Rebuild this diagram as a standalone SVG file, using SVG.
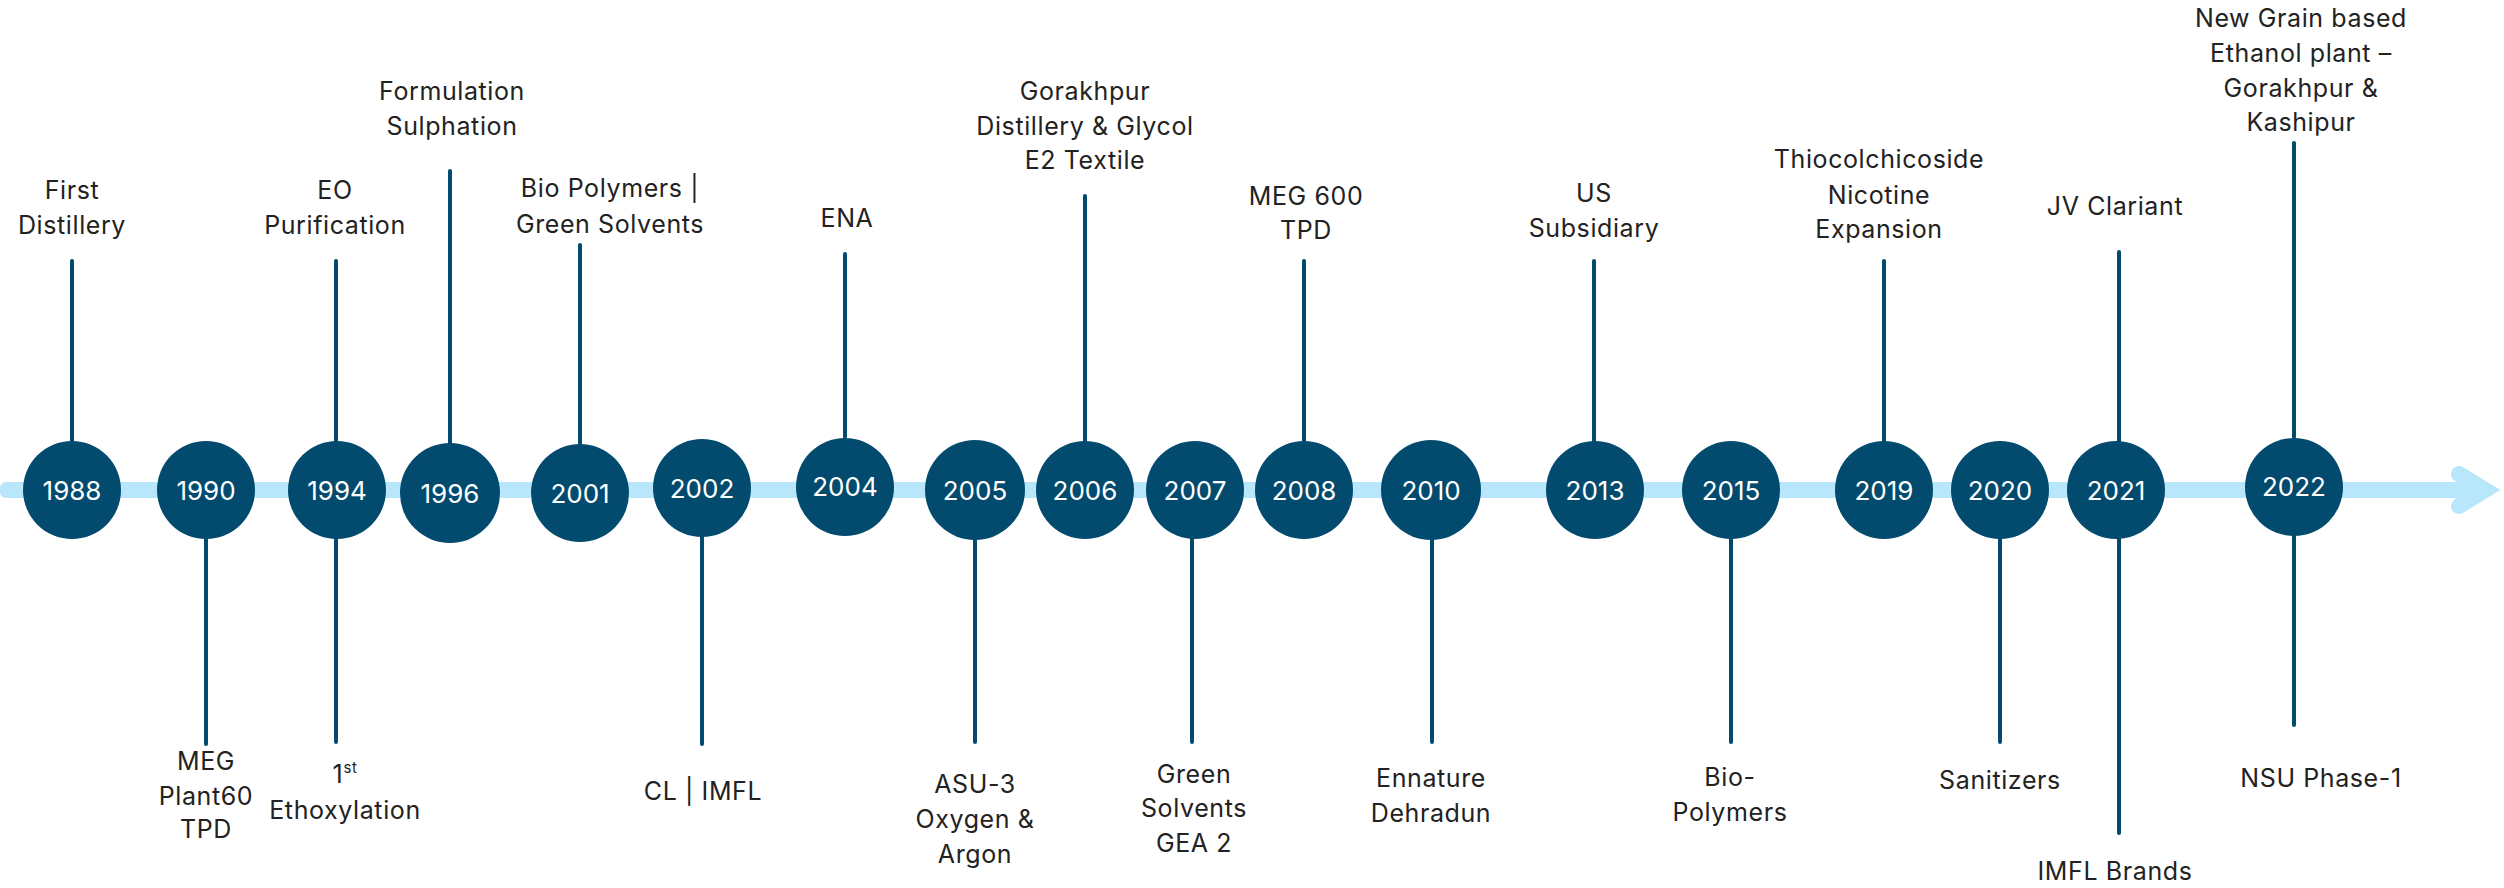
<svg xmlns="http://www.w3.org/2000/svg" width="2504" height="888" viewBox="0 0 2504 888">
<style>
.bg{fill:#ffffff}
.band{fill:#b8e6fb}
.chev{fill:none;stroke:#b8e6fb;stroke-width:16;stroke-linecap:round;stroke-linejoin:miter}
.stem{stroke:#034b6e;stroke-width:4;stroke-linecap:round;fill:none}
.dot{fill:#034b6e}
.yr{font-family:Inter,"Liberation Sans",sans-serif;font-size:26px;fill:#ffffff;text-anchor:middle}
.lb{font-family:Inter,"Liberation Sans",sans-serif;font-size:25px;letter-spacing:0.6px;fill:#222222;text-anchor:middle}
</style>
<rect class="bg" x="0" y="0" width="2504" height="888"/>
<g id="timeline">
<rect class="band" x="0" y="482" width="2478" height="16" rx="6"/>
<polyline class="chev" points="2459,474 2485,490 2459,506"/>
</g>
<g id="connectors">
<line class="stem" x1="72" y1="261" x2="72" y2="441"/>
<line class="stem" x1="336" y1="261" x2="336" y2="441"/>
<line class="stem" x1="450" y1="171" x2="450" y2="443"/>
<line class="stem" x1="580" y1="245" x2="580" y2="444"/>
<line class="stem" x1="845" y1="254" x2="845" y2="437"/>
<line class="stem" x1="1085" y1="196" x2="1085" y2="441"/>
<line class="stem" x1="1304" y1="261" x2="1304" y2="441"/>
<line class="stem" x1="1594" y1="261" x2="1594" y2="441"/>
<line class="stem" x1="1884" y1="261" x2="1884" y2="441"/>
<line class="stem" x1="2119" y1="252" x2="2119" y2="441"/>
<line class="stem" x1="2294" y1="143" x2="2294" y2="437"/>
<line class="stem" x1="206" y1="539" x2="206" y2="744"/>
<line class="stem" x1="336" y1="539" x2="336" y2="742"/>
<line class="stem" x1="702" y1="537" x2="702" y2="744"/>
<line class="stem" x1="975" y1="540" x2="975" y2="742"/>
<line class="stem" x1="1192" y1="539" x2="1192" y2="742"/>
<line class="stem" x1="1432" y1="540" x2="1432" y2="742"/>
<line class="stem" x1="1731" y1="539" x2="1731" y2="742"/>
<line class="stem" x1="2000" y1="539" x2="2000" y2="742"/>
<line class="stem" x1="2119" y1="539" x2="2119" y2="833"/>
<line class="stem" x1="2294" y1="536" x2="2294" y2="725"/>
</g>
<g id="n1988">
<ellipse class="dot" cx="72" cy="490" rx="49" ry="49"/>
<text class="yr" x="72" y="500">1988</text>
<text class="lb" x="72" y="199">First</text>
<text class="lb" x="72" y="234">Distillery</text>
</g>
<g id="n1990">
<ellipse class="dot" cx="206" cy="490" rx="49" ry="49"/>
<text class="yr" x="206" y="500">1990</text>
<text class="lb" x="206" y="770">MEG</text>
<text class="lb" x="206" y="805">Plant60</text>
<text class="lb" x="206" y="838">TPD</text>
</g>
<g id="n1994">
<ellipse class="dot" cx="337" cy="490" rx="49" ry="49"/>
<text class="yr" x="337" y="500">1994</text>
<text class="lb" x="335" y="199">EO</text>
<text class="lb" x="335" y="234">Purification</text>
<text class="lb" x="345" y="783">1<tspan font-size="15" dy="-10">st</tspan></text>
<text class="lb" x="345" y="819">Ethoxylation</text>
</g>
<g id="n1996">
<ellipse class="dot" cx="450" cy="493" rx="50" ry="50"/>
<text class="yr" x="450" y="503">1996</text>
<text class="lb" x="452" y="100">Formulation</text>
<text class="lb" x="452" y="135">Sulphation</text>
</g>
<g id="n2001">
<ellipse class="dot" cx="580" cy="493" rx="49" ry="49"/>
<text class="yr" x="580" y="503">2001</text>
<text class="lb" x="610" y="197">Bio Polymers |</text>
<text class="lb" x="610" y="233">Green Solvents</text>
</g>
<g id="n2002">
<ellipse class="dot" cx="702" cy="488" rx="49" ry="49"/>
<text class="yr" x="702" y="498">2002</text>
<text class="lb" x="703" y="800">CL | IMFL</text>
</g>
<g id="n2004">
<ellipse class="dot" cx="845" cy="487" rx="49" ry="49"/>
<text class="yr" x="845" y="496">2004</text>
<text class="lb" x="847" y="227">ENA</text>
</g>
<g id="n2005">
<ellipse class="dot" cx="975" cy="490" rx="50" ry="50"/>
<text class="yr" x="975" y="500">2005</text>
<text class="lb" x="975" y="793">ASU-3</text>
<text class="lb" x="975" y="828">Oxygen &amp;</text>
<text class="lb" x="975" y="863">Argon</text>
</g>
<g id="n2006">
<ellipse class="dot" cx="1085" cy="490" rx="49" ry="49"/>
<text class="yr" x="1085" y="500">2006</text>
<text class="lb" x="1085" y="100">Gorakhpur</text>
<text class="lb" x="1085" y="135">Distillery &amp; Glycol</text>
<text class="lb" x="1085" y="169">E2 Textile</text>
</g>
<g id="n2007">
<ellipse class="dot" cx="1195" cy="490" rx="49" ry="49"/>
<text class="yr" x="1195" y="500">2007</text>
<text class="lb" x="1194" y="783">Green</text>
<text class="lb" x="1194" y="817">Solvents</text>
<text class="lb" x="1194" y="852">GEA 2</text>
</g>
<g id="n2008">
<ellipse class="dot" cx="1304" cy="490" rx="49" ry="49"/>
<text class="yr" x="1304" y="500">2008</text>
<text class="lb" x="1306" y="205">MEG 600</text>
<text class="lb" x="1306" y="239">TPD</text>
</g>
<g id="n2010">
<ellipse class="dot" cx="1431" cy="490" rx="50" ry="50"/>
<text class="yr" x="1431" y="500">2010</text>
<text class="lb" x="1431" y="787">Ennature</text>
<text class="lb" x="1431" y="822">Dehradun</text>
</g>
<g id="n2013">
<ellipse class="dot" cx="1595" cy="490" rx="49" ry="49"/>
<text class="yr" x="1595" y="500">2013</text>
<text class="lb" x="1594" y="202">US</text>
<text class="lb" x="1594" y="237">Subsidiary</text>
</g>
<g id="n2015">
<ellipse class="dot" cx="1731" cy="490" rx="49" ry="49"/>
<text class="yr" x="1731" y="500">2015</text>
<text class="lb" x="1730" y="786">Bio-</text>
<text class="lb" x="1730" y="821">Polymers</text>
</g>
<g id="n2019">
<ellipse class="dot" cx="1884" cy="490" rx="49" ry="49"/>
<text class="yr" x="1884" y="500">2019</text>
<text class="lb" x="1879" y="168">Thiocolchicoside</text>
<text class="lb" x="1879" y="204">Nicotine</text>
<text class="lb" x="1879" y="238">Expansion</text>
</g>
<g id="n2020">
<ellipse class="dot" cx="2000" cy="490" rx="49" ry="49"/>
<text class="yr" x="2000" y="500">2020</text>
<text class="lb" x="2000" y="789">Sanitizers</text>
</g>
<g id="n2021">
<ellipse class="dot" cx="2116" cy="490" rx="49" ry="49"/>
<text class="yr" x="2116" y="500">2021</text>
<text class="lb" x="2115" y="215">JV Clariant</text>
<text class="lb" x="2115" y="880">IMFL Brands</text>
</g>
<g id="n2022">
<ellipse class="dot" cx="2294" cy="487" rx="49" ry="49"/>
<text class="yr" x="2294" y="496">2022</text>
<text class="lb" x="2301" y="27">New Grain based</text>
<text class="lb" x="2301" y="62">Ethanol plant –</text>
<text class="lb" x="2301" y="97">Gorakhpur &amp;</text>
<text class="lb" x="2301" y="131">Kashipur</text>
<text class="lb" x="2321" y="787">NSU Phase-1</text>
</g>
</svg>
